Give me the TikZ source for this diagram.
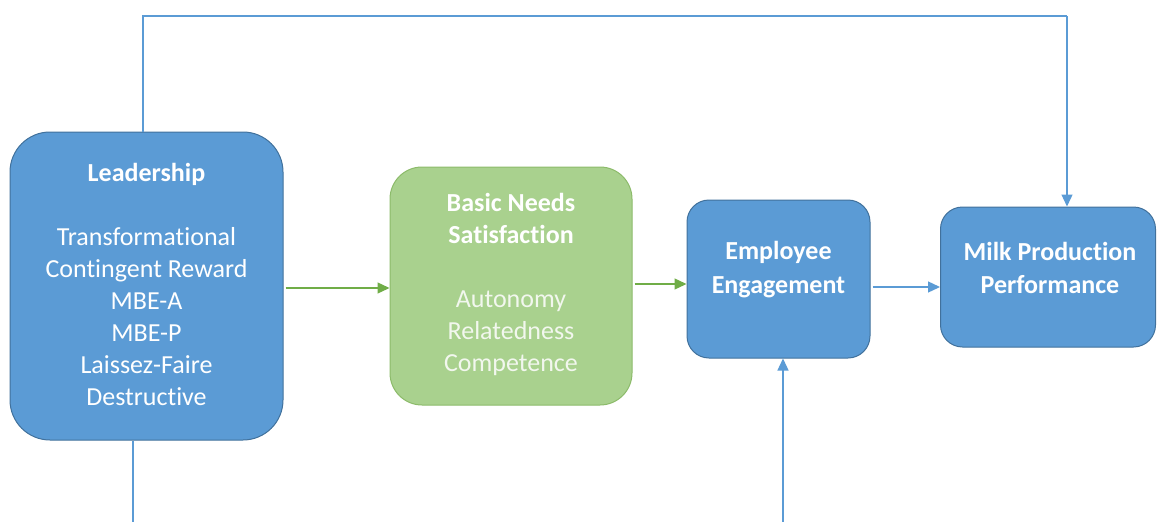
\documentclass[tikz,border=0pt]{standalone}
\usepackage{fontspec}
\setmainfont{Carlito}[Ligatures={NoCommon}]
\usetikzlibrary{arrows.meta}
\definecolor{bfill}{HTML}{5B9BD5}
\definecolor{bdraw}{HTML}{41719C}
\definecolor{gfill}{HTML}{A9D18E}
\definecolor{gdraw}{HTML}{8CBB6A}
\definecolor{garr}{HTML}{70AD47}
\definecolor{barr}{HTML}{5B9BD5}
\definecolor{ltext}{HTML}{F2F7EE}
\tikzset{
  bluebox/.style={draw=bdraw, fill=bfill, line width=1pt, inner sep=0pt},
  greenbox/.style={draw=gdraw, fill=gfill, line width=1pt, inner sep=0pt},
  boxtext/.style={text=white, align=center, font=\fontsize{26}{32}\selectfont, inner sep=0pt},
  barrow/.style={draw=barr, line width=1.3pt, -{Triangle[length=12pt,width=11pt]}},
  bline/.style={draw=barr, line width=1.3pt},
  garrow/.style={draw=garr, line width=1.3pt, -{Triangle[length=12pt,width=11pt]}}
}
\begin{document}
\begin{tikzpicture}[x=1pt,y=-1pt]
\useasboundingbox (0,0) rectangle (1157,522);
% boxes
\node[bluebox, rounded corners=40pt, minimum width=273pt, minimum height=308pt] (lead) at (146.5,286) {};
\node[greenbox, rounded corners=32pt, minimum width=242pt, minimum height=238pt] (green) at (511,286) {};
\node[bluebox, rounded corners=22pt, minimum width=183pt, minimum height=158pt] (eng) at (778.5,279) {};
\node[bluebox, rounded corners=22pt, minimum width=215pt, minimum height=140pt] (milk) at (1048,277) {};
% texts
\node[boxtext] (leadtxt) at (146.5,284) {\textbf{Leadership}\\[32pt]Transformational\\Contingent Reward\\MBE-A\\MBE-P\\Laissez-Faire\\Destructive};
\node[boxtext] (greentxt) at (511,284) {\textbf{Basic Needs}\\\textbf{Satisfaction}\\[32pt]{\color{ltext}Autonomy}\\{\color{ltext}Relatedness}\\{\color{ltext}Competence}};
\node[boxtext, font=\fontsize{26}{34}\selectfont] (engtxt) at (778.5,270) {\textbf{Employee}\\\textbf{Engagement}};
\node[boxtext, font=\fontsize{26}{33}\selectfont] (milktxt) at (1050,268) {\textbf{Milk Production}\\\textbf{Performance}};
% connector helper coordinates
\coordinate (t1) at (143,16);
\coordinate (t2) at (1067,16);
\coordinate (b1) at (133,522);
\coordinate (b2) at (783,522);
% connectors
\draw[bline] (lead.north -| t1) -- (t1) -- (t2);
\draw[barrow] (t2) -- (milk.north -| t2);
\draw[bline] (lead.south -| b1) -- (b1);
\draw[barrow] (b2) -- (eng.south -| b2);
\draw[garrow] ([xshift=2pt]lead.east |- 0,288) -- (green.west |- 0,288);
\draw[garrow] ([xshift=2pt]green.east |- 0,284) -- (eng.west |- 0,284);
\draw[barrow] ([xshift=2pt]eng.east |- 0,287) -- (milk.west |- 0,287);
\end{tikzpicture}
\end{document}
